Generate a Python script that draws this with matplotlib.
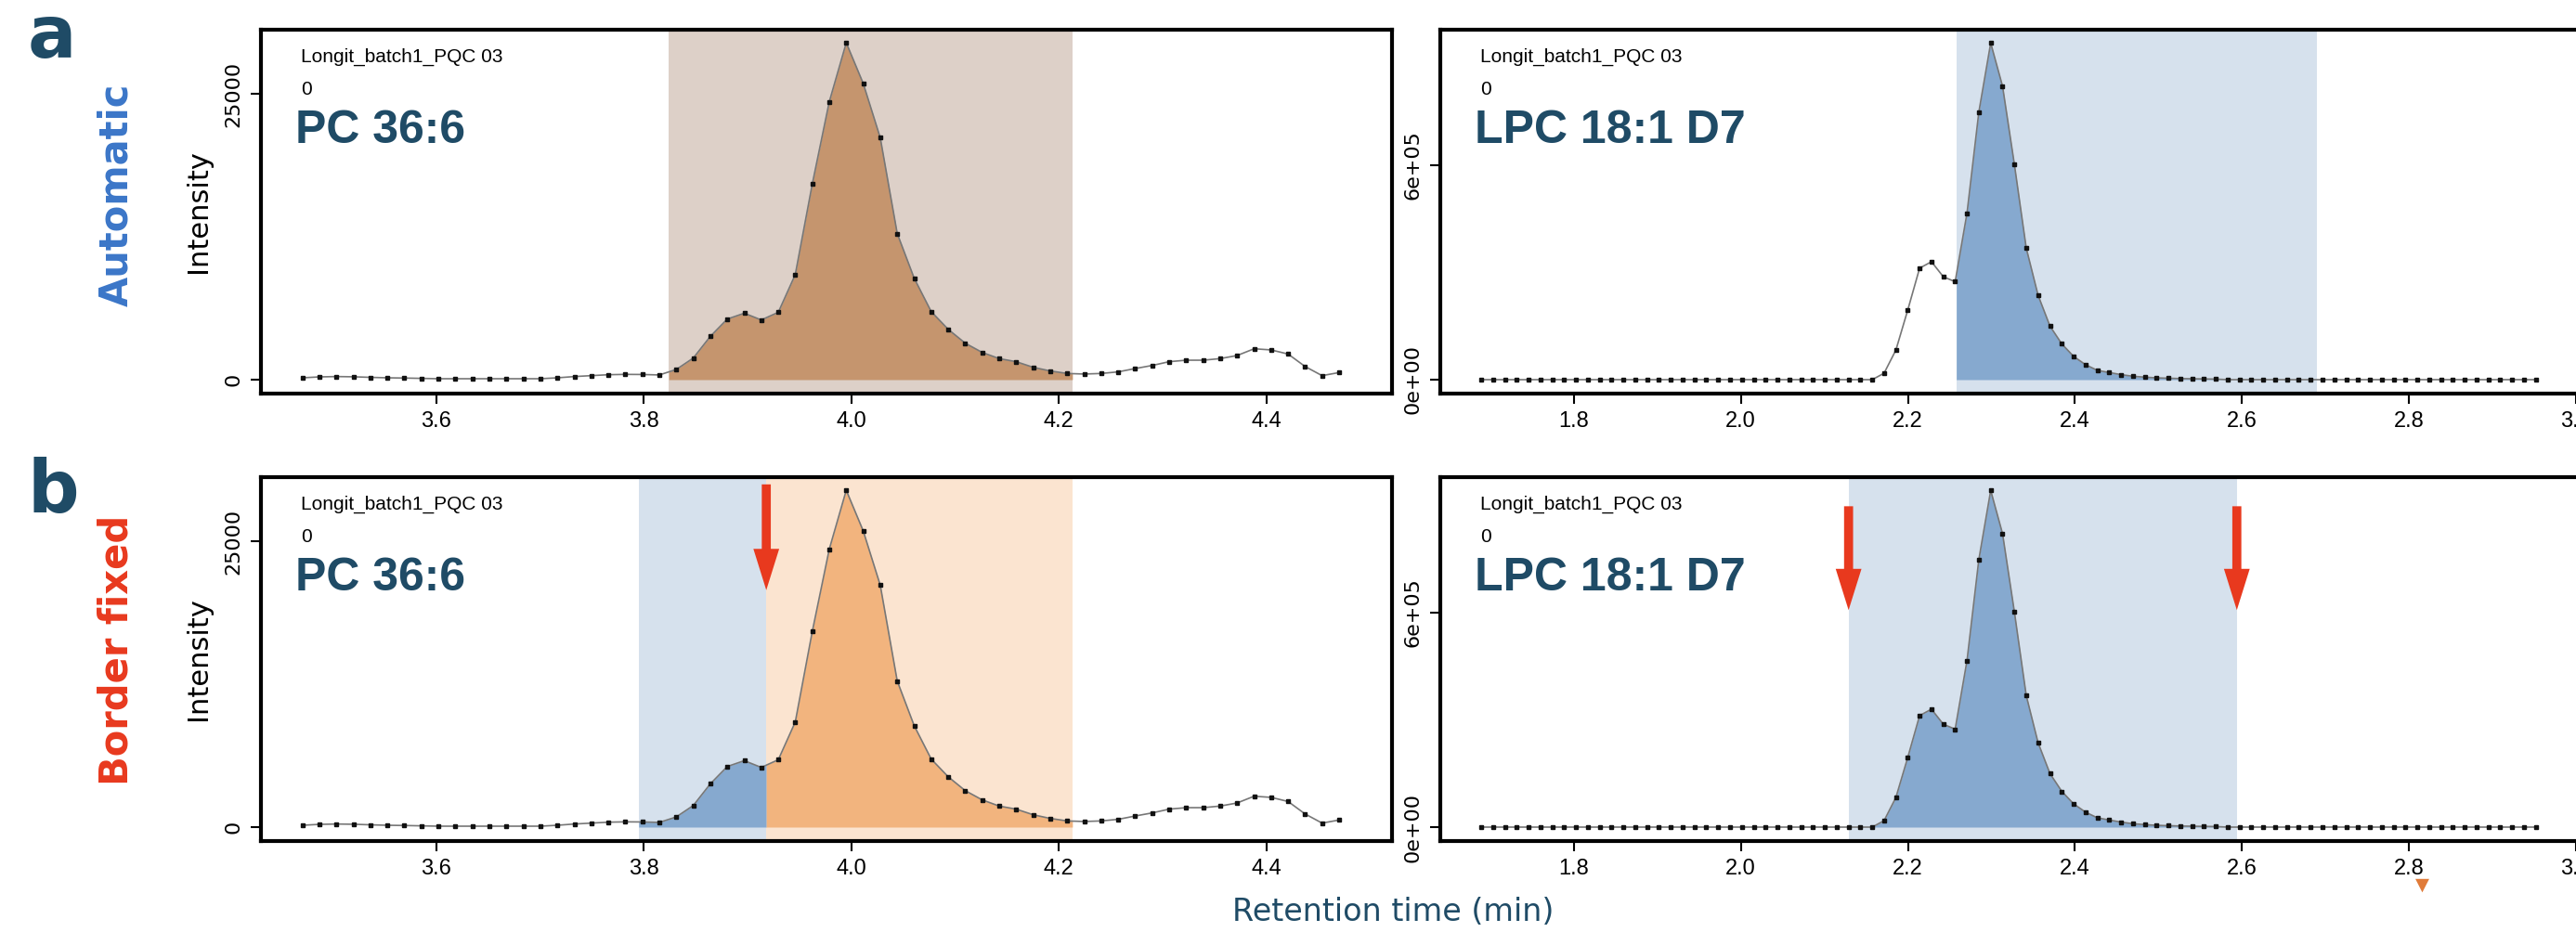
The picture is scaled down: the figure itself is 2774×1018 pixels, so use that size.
import matplotlib
matplotlib.use("Agg")
import matplotlib.pyplot as plt
import numpy as np

# PC 36:6 chromatogram (intensity)
pc_vals = [160, 240, 270, 250, 200, 160, 140, 110, 80, 80, 80, 80, 80, 80, 80,
           160, 270, 350, 430, 460, 450, 410,
           890, 1890, 3780, 5300, 5810, 5220, 5890, 9190, 17100, 24300, 29460, 25900,
           21160, 12780, 8860, 5950, 4400, 3190, 2380, 1840, 1570, 1080, 760, 540, 490,
           540, 680, 970, 1240, 1570, 1700, 1700, 1840, 2110, 2700, 2600, 2240, 1150,
           350, 620]
pc_t0, pc_t1 = 3.471, 4.47

# LPC 18:1 D7 chromatogram (intensity)
lpc_vals = ([0] * 33 +
            [0, 18000, 83000, 195000, 312000, 330000, 288000, 274000, 466000, 749000,
             942000, 821000, 602000, 368000, 236000, 150000, 100000, 65000, 42000, 26000,
             20000, 14000, 9500, 7000, 5000, 4000, 3000, 2500, 2000, 1500] +
            [0] * 27)
lpc_t0, lpc_t1 = 1.689, 2.952

sample_name = "Longit_batch1_PQC 03"
dark = "#1f4b66"
shade_brown, fill_brown = "#ddd0c8", "#c5956e"
shade_blue, fill_blue = "#d6e1ed", "#86a9cf"
shade_orange, fill_orange = "#fbe4d0", "#f2b47e"
narrow = ["Liberation Sans Narrow", "Liberation Sans", "DejaVu Sans"]


def fill_between_rt(ax, t, y, lo, hi, color):
    xs = np.concatenate([[lo], t[(t > lo) & (t < hi)], [hi]])
    ys = np.interp(xs, t, y)
    ax.fill_between(xs, 0, ys, color=color, lw=0, zorder=2)


def panel(ax, t, y, xlim, ylim, xticks, yticks, yticklabels, title, ylabel=None):
    ax.plot(t, y, color="#777777", lw=1.2, zorder=3)
    ax.plot(t, y, "s", color="#111111", ms=2.2, zorder=4)
    ax.set_xlim(xlim)
    ax.set_ylim(ylim)
    ax.set_xticks(xticks)
    ax.set_xticklabels(["%.1f" % v for v in xticks], fontsize=17, family=narrow)
    ax.set_yticks(yticks)
    ax.set_yticklabels(yticklabels, fontsize=16, rotation=90, va="center")
    for s in ax.spines.values():
        s.set_linewidth(3)
    ax.tick_params(length=8, width=1.5, pad=6)
    ax.text(0.035, 0.95, sample_name, transform=ax.transAxes, fontsize=15,
            family=narrow, va="top")
    ax.text(0.035, 0.86, "0", transform=ax.transAxes, fontsize=15,
            family=narrow, va="top")
    ax.text(0.03, 0.78, title, transform=ax.transAxes, fontsize=36, weight="bold",
            family=narrow, color=dark, va="top")
    if ylabel:
        ax.set_ylabel(ylabel, fontsize=22, labelpad=10)


def arrow(ax, x, y_top, y_tip):
    ax.annotate("", xy=(x, y_tip), xytext=(x, y_top), zorder=6,
                arrowprops=dict(arrowstyle="simple,head_width=2.0,head_length=3.2,tail_width=0.7",
                                color="#e8391e", lw=0))


pc_t = np.linspace(pc_t0, pc_t1, len(pc_vals))
pc_y = np.array(pc_vals, float)
lpc_t = np.linspace(lpc_t0, lpc_t1, len(lpc_vals))
lpc_y = np.array(lpc_vals, float)

fig = plt.figure(figsize=(27.74, 10.18), dpi=100)
W = 2774
pc_xlim, lpc_xlim = (3.431, 4.521), (1.64, 3.018)
pc_ylim, lpc_ylim = (-1220, 30600), (-39000, 979000)
pc_xt = [3.6, 3.8, 4.0, 4.2, 4.4]
lpc_xt = [1.8, 2.0, 2.2, 2.4, 2.6, 2.8, 3.0]

rows = [0.5835, 0.110]
h = 0.385
axes = []
for b in rows:
    a1 = fig.add_axes([281 / W, b, 1218 / W, h])
    a2 = fig.add_axes([1551 / W, b, 1239 / W, h])
    axes.append((a1, a2))

# row a: automatic
a1, a2 = axes[0]
a1.axvspan(3.824, 4.213, color=shade_brown, lw=0, zorder=1)
fill_between_rt(a1, pc_t, pc_y, 3.824, 4.213, fill_brown)
panel(a1, pc_t, pc_y, pc_xlim, pc_ylim, pc_xt, [0, 25000], ["0", "25000"], "PC 36:6", "Intensity")
a2.axvspan(2.258, 2.69, color=shade_blue, lw=0, zorder=1)
fill_between_rt(a2, lpc_t, lpc_y, 2.258, 2.69, fill_blue)
panel(a2, lpc_t, lpc_y, lpc_xlim, lpc_ylim, lpc_xt, [0, 6e5], ["0e+00", "6e+05"], "LPC 18:1 D7")

# row b: border fixed
b1, b2 = axes[1]
b1.axvspan(3.795, 3.918, color=shade_blue, lw=0, zorder=1)
b1.axvspan(3.918, 4.213, color=shade_orange, lw=0, zorder=1)
fill_between_rt(b1, pc_t, pc_y, 3.795, 3.918, fill_blue)
fill_between_rt(b1, pc_t, pc_y, 3.918, 4.213, fill_orange)
panel(b1, pc_t, pc_y, pc_xlim, pc_ylim, pc_xt, [0, 25000], ["0", "25000"], "PC 36:6", "Intensity")
arrow(b1, 3.918, 30200, 20500)
b2.axvspan(2.129, 2.594, color=shade_blue, lw=0, zorder=1)
fill_between_rt(b2, lpc_t, lpc_y, 2.129, 2.594, fill_blue)
panel(b2, lpc_t, lpc_y, lpc_xlim, lpc_ylim, lpc_xt, [0, 6e5], ["0e+00", "6e+05"], "LPC 18:1 D7")
arrow(b2, 2.129, 905000, 600000)
arrow(b2, 2.594, 905000, 600000)

# side labels
fig.text(30 / W, 1 - 40 / 1018, "a", fontsize=56, weight="bold", color=dark, ha="left", va="center")
fig.text(30 / W, 1 - 530 / 1018, "b", fontsize=56, weight="bold", color=dark, ha="left", va="center")
fig.text(125 / W, 1 - 210 / 1018, "Automatic", fontsize=30, weight="bold", color="#3b76c8",
         rotation=90, ha="center", va="center")
fig.text(125 / W, 1 - 700 / 1018, "Border fixed", fontsize=30, weight="bold", color="#e8391e",
         rotation=90, ha="center", va="center")
fig.text(1500 / W, 1 - 983 / 1018, "Retention time (min)", fontsize=24, color=dark,
         ha="center", va="center")
fig.text(2608 / W, 1 - 953 / 1018, "\u25BC", fontsize=14, color="#e07b39", ha="center", va="center")

fig.savefig("out.png", dpi=100)
